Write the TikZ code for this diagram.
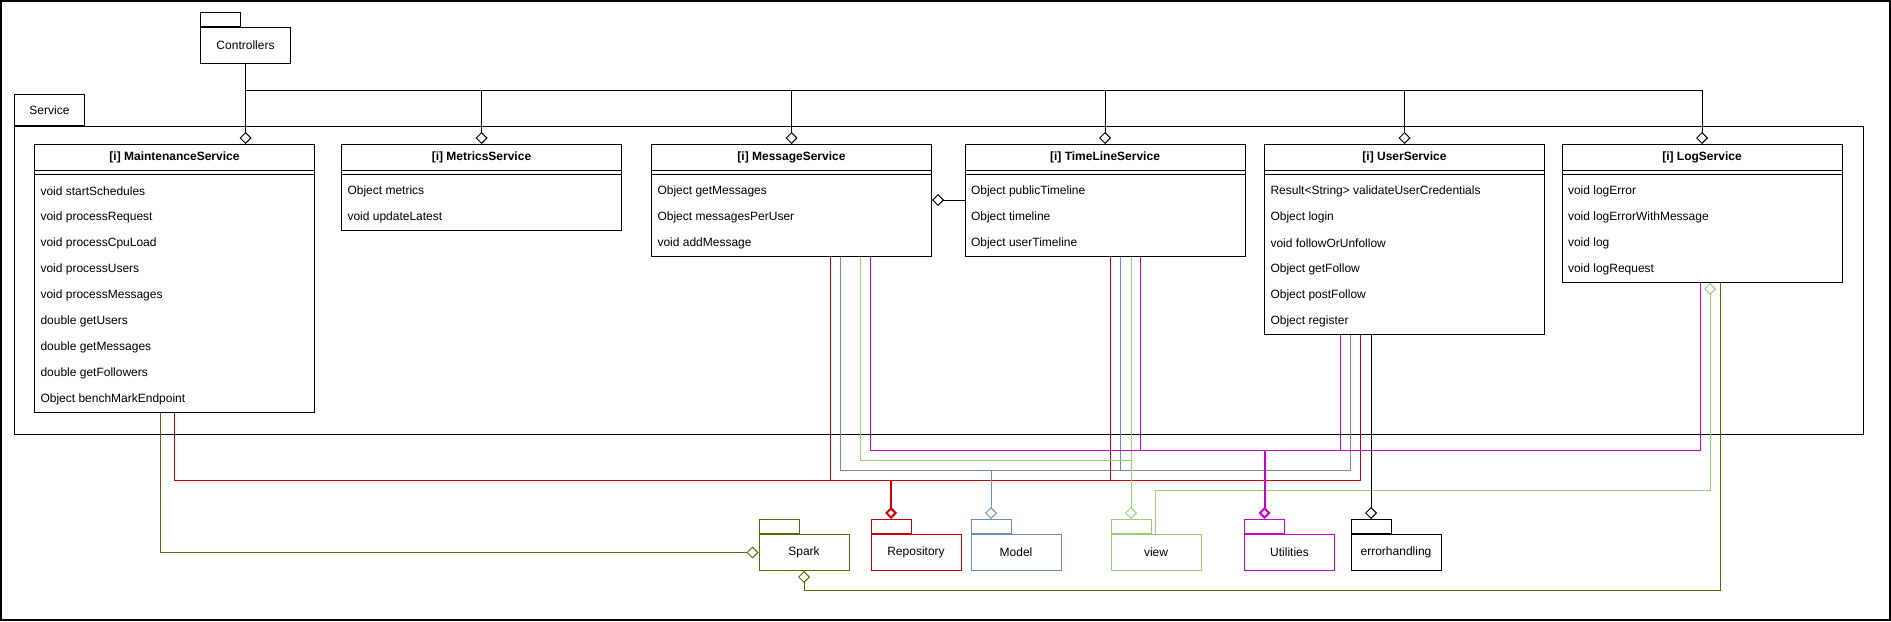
\documentclass[tikz,border=0pt]{standalone}
\usepackage{fontspec}
\setmainfont{Liberation Sans}
\usetikzlibrary{arrows.meta}

\begin{document}
\begin{tikzpicture}[x=0.75pt,y=0.75pt,yscale=-1,xscale=1,line width=0.75,font=\fontsize{9}{11}\selectfont,
classbox/.style={draw,anchor=north west,minimum width=210pt,inner sep=0pt},
classhead/.style={anchor=north,minimum height=19.5pt,inner sep=0pt,font=\fontsize{9}{11}\selectfont\bfseries},
member/.style={anchor=west,inner sep=0pt},
pkg/.style={draw,anchor=north west,minimum width=67.5pt,minimum height=27pt,inner sep=0pt},
pkgtab/.style={draw,anchor=south west,minimum width=30pt,minimum height=10.5pt,inner sep=0pt},
agg/.style={-{Diamond[open,length=9pt,width=9pt]}},
repocol/.style={draw={rgb, 255:red, 204; green, 0; blue, 0 }},
modelcol/.style={draw={rgb, 255:red, 108; green, 142; blue, 191 }},
viewcol/.style={draw={rgb, 255:red, 151; green, 208; blue, 119 }},
utilcol/.style={draw={rgb, 255:red, 204; green, 0; blue, 204 }},
sparkcol/.style={draw={rgb, 255:red, 102; green, 102; blue, 0 }}]
%set diagram size to the screenshot
\useasboundingbox (0,0) rectangle (1891,621);
\draw [line width=1.5] (1,1) rectangle (1890,620);

%Package: Service
\draw (14,126) rectangle (1863,434);
\node (svcT) [pkgtab,minimum width=52.5pt,minimum height=23.25pt] at (14,126) {Service};
%Package: Controllers
\node (ctl) [pkg] at (200,27) {Controllers};
\node (ctlT) [pkgtab] at (ctl.north west) {};

%Class: MaintenanceService
\node (mnt) [classbox,minimum height=201pt] at (34,144) {};
\node (mntH) [classhead] at (mnt.north) {[i] MaintenanceService};
\draw (34,170) -- (314,170) (34,174) -- (314,174);
\foreach \m [count=\i] in {void startSchedules,void processRequest,void processCpuLoad,void processUsers,void processMessages,double getUsers,double getMessages,double getFollowers,Object benchMarkEndpoint}
  \node (mnt\i) [member] at (40,{165+26*\i}) {\m};
%Class: MetricsService
\node (met) [classbox,minimum height=64.5pt] at (341,144) {};
\node (metH) [classhead] at (met.north) {[i] MetricsService};
\draw (341,170) -- (621,170) (341,174) -- (621,174);
\foreach \m [count=\i] in {Object metrics,void updateLatest}
  \node (met\i) [member] at (347,{165+26*\i}) {\m};
%Class: MessageService
\node (msg) [classbox,minimum height=84pt] at (651,144) {};
\node (msgH) [classhead] at (msg.north) {[i] MessageService};
\draw (651,170) -- (931,170) (651,174) -- (931,174);
\foreach \m [count=\i] in {Object getMessages,Object messagesPerUser,void addMessage}
  \node (msg\i) [member] at (657,{165+26*\i}) {\m};
%Class: TimeLineService
\node (tml) [classbox,minimum height=84pt] at (964.5,144) {};
\node (tmlH) [classhead] at (tml.north) {[i] TimeLineService};
\draw (964.5,170) -- (1244.5,170) (964.5,174) -- (1244.5,174);
\foreach \m [count=\i] in {Object publicTimeline,Object timeline,Object userTimeline}
  \node (tml\i) [member] at (970.5,{165+26*\i}) {\m};
%Class: UserService
\node (usr) [classbox,minimum height=142.5pt] at (1264,144) {};
\node (usrH) [classhead] at (usr.north) {[i] UserService};
\draw (1264,170) -- (1544,170) (1264,174) -- (1544,174);
\foreach \m [count=\i] in {Result<String> validateUserCredentials,Object login,void followOrUnfollow,Object getFollow,Object postFollow,Object register}
  \node (usr\i) [member] at (1270,{165+26*\i}) {\m};
%Class: LogService
\node (log) [classbox,minimum height=103.5pt] at (1561.5,144) {};
\node (logH) [classhead] at (log.north) {[i] LogService};
\draw (1561.5,170) -- (1841.5,170) (1561.5,174) -- (1841.5,174);
\foreach \m [count=\i] in {void logError,void logErrorWithMessage,void log,void logRequest}
  \node (log\i) [member] at (1567.5,{165+26*\i}) {\m};

%Packages
\node (spk) [pkg,sparkcol] at (758.5,534) {Spark};
\node (spkT) [pkgtab,sparkcol] at (spk.north west) {};
\node (rep) [pkg,repocol] at (870.5,534) {Repository};
\node (repT) [pkgtab,repocol] at (rep.north west) {};
\node (mdl) [pkg,modelcol] at (970.5,534) {Model};
\node (mdlT) [pkgtab,modelcol] at (mdl.north west) {};
\node (vw) [pkg,viewcol] at (1110.5,534) {view};
\node (vwT) [pkgtab,viewcol] at (vw.north west) {};
\node (utl) [pkg,utilcol] at (1244,534) {Utilities};
\node (utlT) [pkgtab,utilcol] at (utl.north west) {};
\node (err) [pkg] at (1350.5,534) {errorhandling};
\node (errT) [pkgtab] at (err.north west) {};

%Controllers -> services
\coordinate (bus) at (245,90);
\draw [agg] (ctl.south) -- (ctl.south |- mnt.north);
\foreach \c in {met,msg,tml,usr,log}
  \draw [agg] (bus) -| (\c.north);
\draw [agg] (tml.west |- 0,200) -- (msg.east |- 0,200);

%Repository
\coordinate (repJ) at (repT.north |- 0,480);
\draw [repocol] (mnt.south) |- (repJ) (830,0 |- msg.south) |- (repJ) (1110.5,0 |- tml.south) |- (repJ) (1360,0 |- usr.south) |- (repJ);
\draw [repocol,agg,line width=1.5] (repJ) -- (repT.north);
%Model
\coordinate (mdlJ) at (mdlT.north |- 0,470);
\draw [modelcol] (840,0 |- msg.south) |- (mdlJ) (1120,0 |- tml.south) |- (mdlJ) (1350,0 |- usr.south) |- (mdlJ);
\draw [modelcol,agg] (mdlJ) -- (mdlT.north);
%view
\coordinate (vwJ) at (vwT.north |- 0,460);
\draw [viewcol] (860,0 |- msg.south) |- (vwJ);
\draw [viewcol,agg] (vwT.north |- tml.south) -- (vwT.north);
\draw [viewcol,agg] (1155,0 |- vw.north) |- (1710,490) -- (1710,0 |- log.south);
%Utilities
\coordinate (utlJ) at (utlT.north |- 0,450);
\draw [utilcol] (870,0 |- msg.south) |- (utlJ) (1140,0 |- tml.south) |- (utlJ) (1340,0 |- usr.south) |- (utlJ) (1700,0 |- log.south) |- (utlJ);
\draw [utilcol,agg,line width=1.5] (utlJ) -- (utlT.north);
%errorhandling
\draw [agg] (errT.north |- usr.south) -- (errT.north);
%Spark
\draw [sparkcol,agg] (160,0 |- mnt.south) |- (spk.west);
\draw [sparkcol,agg] (1720,0 |- log.south) |- (spk.south |- 0,590) -- (spk.south);

\end{tikzpicture}
\end{document}
